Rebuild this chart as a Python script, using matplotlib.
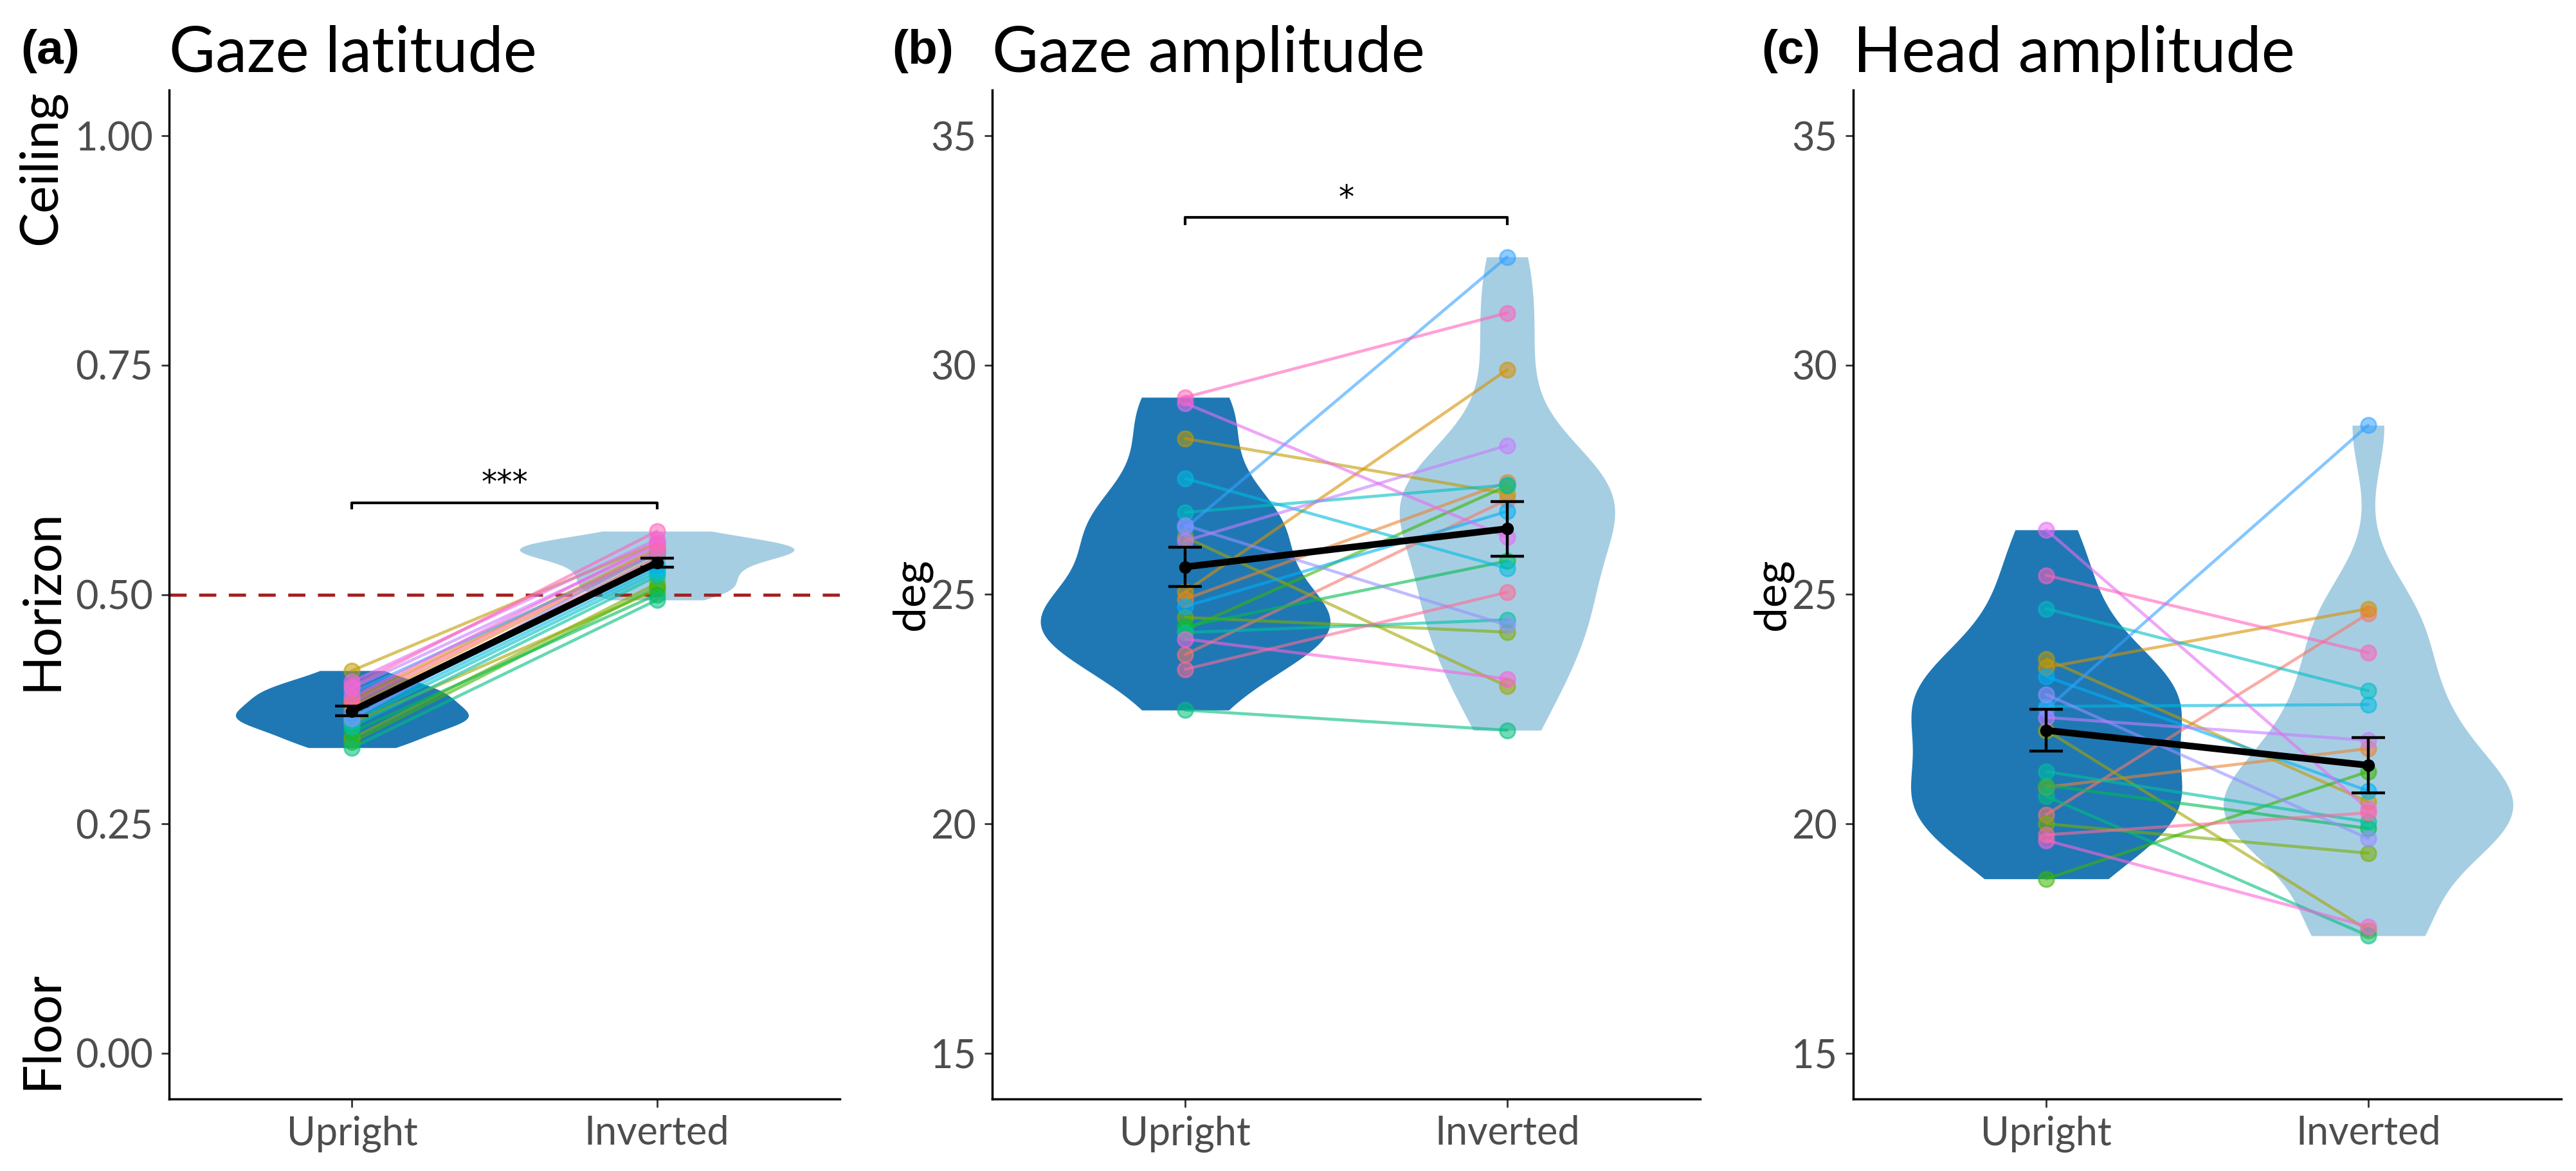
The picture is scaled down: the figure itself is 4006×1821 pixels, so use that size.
import numpy as np
import matplotlib
matplotlib.use("Agg")
import matplotlib.pyplot as plt

# ---------------- data ----------------
conditions = ["Upright", "Inverted"]
panel_letters = ["(a)", "(b)", "(c)"]
panel_titles = ["Gaze latitude", "Gaze amplitude", "Head amplitude"]

# subject index i -> colour i of a 20-level hue palette
lat_upright = [0.372, 0.378, 0.385, 0.417, 0.360, 0.343, 0.339, 0.350, 0.333, 0.356,
               0.362, 0.366, 0.370, 0.393, 0.365, 0.398, 0.405, 0.388, 0.400, 0.382]
lat_inverted = [0.540, 0.545, 0.550, 0.556, 0.505, 0.512, 0.508, 0.500, 0.494, 0.520,
                0.524, 0.528, 0.532, 0.545, 0.548, 0.553, 0.560, 0.556, 0.569, 0.548]

gamp_upright = [23.69, 24.90, 25.06, 28.40, 26.25, 24.50, 24.23, 24.30, 22.48, 24.17,
                26.79, 27.53, 24.74, 26.45, 26.51, 26.17, 29.17, 24.03, 29.30, 23.37]
gamp_inverted = [27.07, 27.45, 29.90, 27.20, 23.00, 24.18, 27.37, 25.73, 22.04, 24.45,
                 27.39, 25.57, 26.81, 32.36, 24.33, 28.25, 26.25, 23.16, 31.14, 25.05]

hamp_upright = [20.20, 20.80, 23.41, 23.59, 22.04, 20.00, 18.80, 20.84, 20.60, 21.14,
                24.69, 22.56, 23.21, 22.50, 22.82, 22.32, 26.41, 19.64, 25.42, 19.76]
hamp_inverted = [24.58, 21.64, 24.69, 20.48, 17.68, 19.36, 21.14, 19.90, 17.56, 20.04,
                 22.90, 22.60, 20.72, 28.69, 19.68, 21.82, 20.32, 17.76, 23.73, 20.24]

lat_ticks = [0.00, 0.25, 0.50, 0.75, 1.00]
amp_ticks = [15, 20, 25, 30, 35]
lat_side_labels = ["Ceiling", "Horizon", "Floor"]
sig_labels = ["***", "*", None]
sig_heights = [0.60, 33.22, None]
horizon_level = 0.5

# ---------------- styles ----------------
plt.rcParams['font.family'] = ['Lato', 'DejaVu Sans']
W, H = 4006, 1821
DPI = 100
fig = plt.figure(figsize=(W / DPI, H / DPI), dpi=DPI)

VIOLIN_COLORS = ["#1F78B4", "#A6CEE3"]
TICK_GREY = "#4D4D4D"


def hcl_hex(h, c=100.0, l=65.0):
    hr = np.deg2rad(h)
    u, v = c * np.cos(hr), c * np.sin(hr)
    Y = ((l + 16) / 116) ** 3
    un, vn = 0.1978398, 0.4683363
    up = u / (13 * l) + un
    vp = v / (13 * l) + vn
    X = 9 * Y * up / (4 * vp)
    Z = Y * (12 - 3 * up - 20 * vp) / (4 * vp)
    M = np.array([[3.240479, -1.537150, -0.498535],
                  [-0.969256, 1.875992, 0.041556],
                  [0.055648, -0.204043, 1.057311]])
    rgb = M @ np.array([X, Y, Z])
    rgb = np.where(rgb <= 0.0031308, 12.92 * rgb, 1.055 * np.clip(rgb, 0, None) ** (1 / 2.4) - 0.055)
    return tuple(np.clip(rgb, 0, 1))


n_subj = len(lat_upright)
subj_colors = [hcl_hex(15 + 360 * i / n_subj) for i in range(n_subj)]


def kde(vals, grid):
    vals = np.asarray(vals)
    n = len(vals)
    sd = np.std(vals, ddof=1)
    iqr = np.subtract(*np.percentile(vals, [75, 25]))
    bw = 0.9 * min(sd, iqr / 1.34) * n ** (-0.2)
    d = np.exp(-0.5 * ((grid[:, None] - vals[None, :]) / bw) ** 2).sum(1)
    return d / (n * bw * np.sqrt(2 * np.pi))


def draw_panel(ax, up, inv, ylim, ticks, ticklabels):
    groups = [np.asarray(up), np.asarray(inv)]
    grids, dens = [], []
    for g in groups:
        grid = np.linspace(g.min(), g.max(), 512)
        grids.append(grid)
        dens.append(kde(g, grid))
    dmax = max(d.max() for d in dens)
    for k, (grid, d) in enumerate(zip(grids, dens)):
        w = 0.45 * d / dmax
        ax.fill_betweenx(grid, k + 1 - w, k + 1 + w, color=VIOLIN_COLORS[k], lw=0, zorder=1)
    for i in range(n_subj):
        ax.plot([1, 2], [up[i], inv[i]], color=subj_colors[i], lw=3.4, alpha=0.6,
                zorder=3, solid_capstyle='round')
        ax.plot([1, 2], [up[i], inv[i]], ls='none', marker='o', ms=17,
                mfc=subj_colors[i], mec=subj_colors[i], mew=2.2, alpha=0.55, zorder=4)
    means = [g.mean() for g in groups]
    ses = [g.std(ddof=1) / np.sqrt(len(g)) for g in groups]
    ax.plot([1, 2], means, color='black', lw=7.5, zorder=6, solid_capstyle='butt')
    ax.errorbar([1, 2], means, yerr=ses, fmt='o', color='black', ms=13, elinewidth=3.2,
                capsize=19, capthick=3.2, zorder=7)
    ax.set_xlim(0.4, 2.6)
    ax.set_ylim(*ylim)
    ax.set_xticks([1, 2])
    ax.set_xticklabels(conditions)
    ax.set_yticks(ticks)
    ax.set_yticklabels(ticklabels)
    for s in ['top', 'right']:
        ax.spines[s].set_visible(False)
    for s in ['left', 'bottom']:
        ax.spines[s].set_linewidth(2.5)
        ax.spines[s].set_color('black')
    ax.tick_params(axis='both', length=9, width=2, color='#333333', labelsize=44,
                   labelcolor=TICK_GREY, pad=9)


def add_bracket(ax, y, tip, label, text_off):
    ax.plot([1, 1, 2, 2], [y - tip, y, y, y - tip], color='black', lw=3, zorder=8)
    ax.text(1.5, y + text_off, label, ha='center', va='bottom', fontsize=35,
            color='black', family=['DejaVu Sans'])


lefts = [263, 1543, 2882]
rights = [1306, 2644, 3983]
top, bottom = 140, 1709
axes = []
for L, R in zip(lefts, rights):
    axes.append(fig.add_axes([L / W, (H - bottom) / H, (R - L) / W, (bottom - top) / H]))

# panel a
ax = axes[0]
draw_panel(ax, lat_upright, lat_inverted, (-0.05, 1.05), lat_ticks,
           ["%.2f" % t for t in lat_ticks])
ax.axhline(horizon_level, color='#A3201F', lw=3.5, ls=(0, (5.5, 4)), zorder=2)
add_bracket(ax, sig_heights[0], 0.006, sig_labels[0], 0.004)

# panel b
ax = axes[1]
draw_panel(ax, gamp_upright, gamp_inverted, (14, 36), amp_ticks, [str(t) for t in amp_ticks])
add_bracket(ax, sig_heights[1], 0.13, sig_labels[1], 0.08)

# panel c
ax = axes[2]
draw_panel(ax, hamp_upright, hamp_inverted, (14, 36), amp_ticks, [str(t) for t in amp_ticks])

for ax in axes[1:]:
    ax.set_ylabel("deg", fontsize=50, color='black')
    ax.yaxis.set_label_coords(-0.085, 0.5)

# side labels of panel a
for lab, yc in zip(lat_side_labels, [261, 933, 1602]):
    fig.text(65 / W, 1 - yc / H, lab, rotation=90, ha='center', va='center',
             fontsize=58, color='black')

# titles and panel letters
letter_x = [32, 1387, 2739]
for k in range(3):
    fig.text(letter_x[k] / W, 1 - 80 / H, panel_letters[k], ha='left', va='center',
             fontsize=54, fontweight='bold', family=['Liberation Sans', 'DejaVu Sans'])
    fig.text(lefts[k] / W, 1 - 112 / H, panel_titles[k], ha='left', va='baseline',
             fontsize=71, color='black')

fig.savefig("out.png", dpi=DPI, facecolor='white')
